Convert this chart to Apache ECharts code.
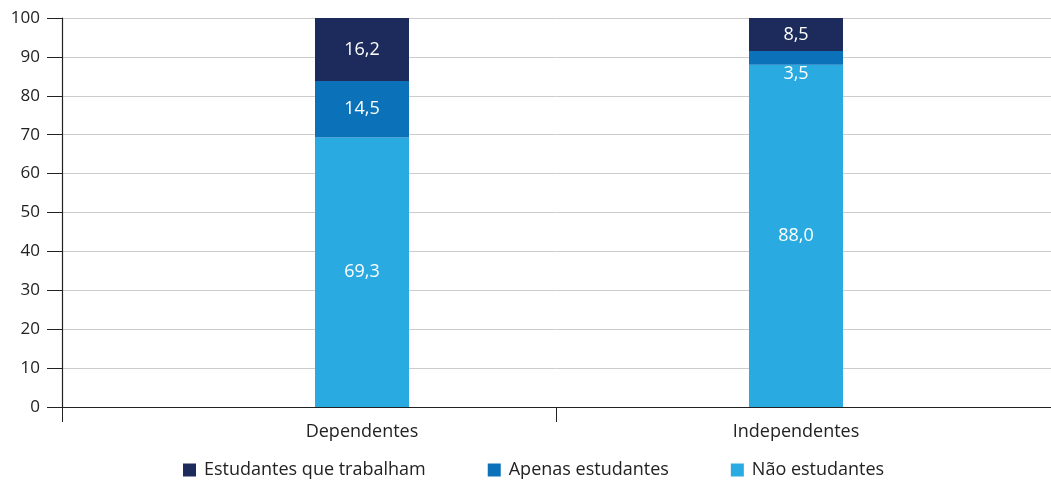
<!DOCTYPE html>
<html>
<head>
<meta charset="utf-8">
<script src="https://cdn.jsdelivr.net/npm/echarts@6/dist/echarts.min.js"></script>
<style>html,body{margin:0;padding:0;background:#fff}#c{width:1051px;height:481px}</style>
</head>
<body>
<div id="c"></div>
<script>
const categories = ['Dependentes', 'Independentes'];
const naoEstudantes = [69.3, 88.0];
const apenasEstudantes = [14.5, 3.5];
const estudantesTrabalham = [16.2, 8.5];
const yTicks = [0, 10, 20, 30, 40, 50, 60, 70, 80, 90, 100];

const fmt = p => p.value.toFixed(1).replace('.', ',');
const font = '"Open Sans", "Noto Sans", sans-serif';
const chart = echarts.init(document.getElementById('c'));
const labelBase = { show: true, color: '#fff', fontSize: 18, fontFamily: font, formatter: fmt };

chart.setOption({
  animation: false,
  textStyle: { fontFamily: font },
  legend: {
    bottom: -3, left: 178, itemWidth: 13, itemHeight: 13, itemGap: 62,
    icon: 'rect',
    textStyle: { fontSize: 18, color: '#222', fontFamily: font, padding: [0, 0, 0, 3] },
    data: ['Estudantes que trabalham', 'Apenas estudantes', 'Não estudantes']
  },
  grid: [
    { left: 62, right: 0, top: 18, bottom: 74 },
    { left: 145, right: 38, top: 18, bottom: 74 }
  ],
  xAxis: [
    { type: 'category', gridIndex: 0, data: categories, boundaryGap: true,
      axisLine: { lineStyle: { color: '#222', width: 1.2 } },
      axisTick: { show: true, length: 15, lineStyle: { color: '#222' } },
      axisLabel: { show: false } },
    { type: 'category', gridIndex: 1, data: categories,
      axisLine: { show: false }, axisTick: { show: false },
      axisLabel: { margin: 16, fontSize: 18, color: '#222', fontFamily: font } }
  ],
  yAxis: [
    { type: 'value', gridIndex: 0, min: yTicks[0], max: yTicks[yTicks.length - 1], interval: 10,
      axisLine: { show: true, lineStyle: { color: '#222', width: 1.2 } },
      axisTick: { show: true, length: 15, lineStyle: { color: '#222' } },
      axisLabel: { margin: 22, fontSize: 17, color: '#222', fontFamily: font },
      splitLine: { lineStyle: { color: '#cccccc' } } },
    { type: 'value', gridIndex: 1, min: 0, max: 100, show: false }
  ],
  series: [
    { name: 'Não estudantes', type: 'bar', stack: 's', xAxisIndex: 1, yAxisIndex: 1,
      barWidth: 94, itemStyle: { color: '#29abe2' }, data: naoEstudantes,
      label: Object.assign({ position: 'inside' }, labelBase) },
    { name: 'Apenas estudantes', type: 'bar', stack: 's', xAxisIndex: 1, yAxisIndex: 1,
      barWidth: 94, itemStyle: { color: '#0b72ba' },
      data: apenasEstudantes.map((v, i) => i === 1
        ? { value: v, label: { position: 'bottom', distance: 0 } } : v),
      label: Object.assign({ position: 'inside' }, labelBase) },
    { name: 'Estudantes que trabalham', type: 'bar', stack: 's', xAxisIndex: 1, yAxisIndex: 1,
      barWidth: 94, itemStyle: { color: '#1d2b5c' }, data: estudantesTrabalham,
      label: Object.assign({ position: 'inside' }, labelBase) }
  ]
});
</script>
</body>
</html>
